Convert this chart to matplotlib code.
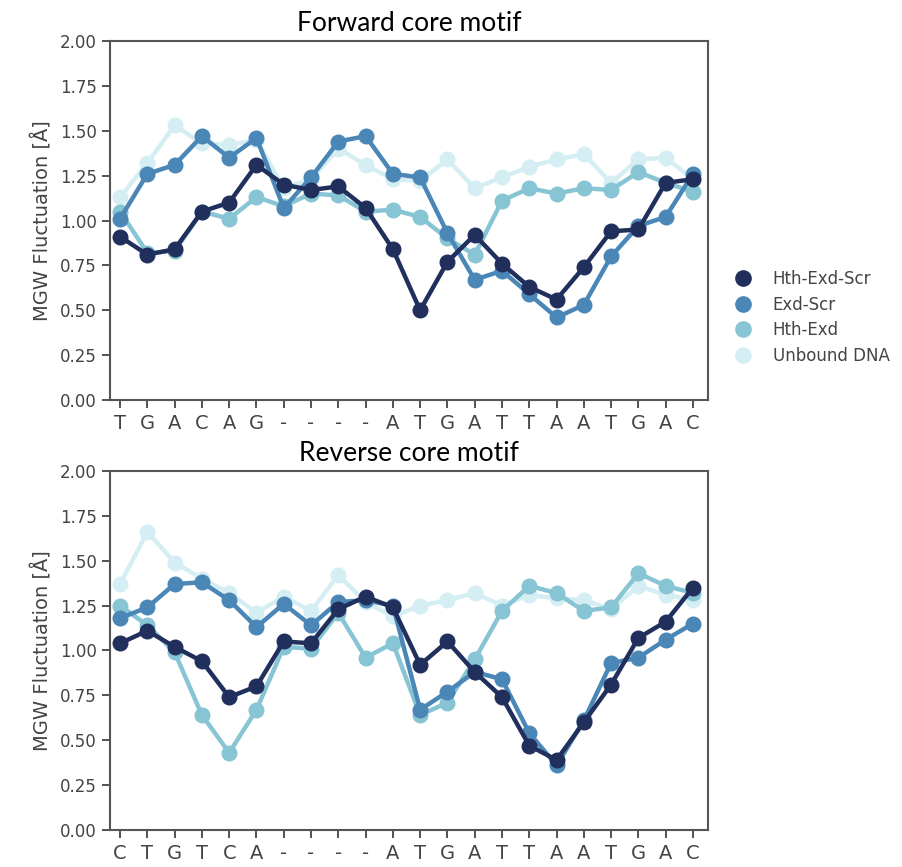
import numpy as np
import matplotlib.pyplot as plt
from matplotlib.lines import Line2D

plt.rcParams['font.family'] = 'DejaVu Sans'

# sequence labels along x
fwd_labels = ['T', 'G', 'A', 'C', 'A', 'G', '-', '-', '-', '-',
              'A', 'T', 'G', 'A', 'T', 'T', 'A', 'A', 'T', 'G', 'A', 'C']
rev_labels = ['C', 'T', 'G', 'T', 'C', 'A', '-', '-', '-', '-',
              'A', 'T', 'G', 'A', 'T', 'T', 'A', 'A', 'T', 'G', 'A', 'C']

series_names = ['Hth-Exd-Scr', 'Exd-Scr', 'Hth-Exd', 'Unbound DNA']
colors = ['#212f5c', '#4a86b6', '#87c5d4', '#d5eef3']

# forward core motif
fwd_hth_exd_scr = [0.91, 0.81, 0.84, 1.05, 1.10, 1.31, 1.20, 1.17, 1.19, 1.07, 0.84,
                   0.50, 0.77, 0.92, 0.76, 0.63, 0.56, 0.74, 0.94, 0.95, 1.21, 1.23]
fwd_exd_scr = [1.01, 1.26, 1.31, 1.47, 1.35, 1.46, 1.07, 1.24, 1.44, 1.47, 1.26,
               1.24, 0.93, 0.67, 0.72, 0.59, 0.46, 0.53, 0.80, 0.97, 1.02, 1.26]
fwd_hth_exd = [1.05, 0.82, 0.83, 1.05, 1.01, 1.13, 1.08, 1.15, 1.14, 1.05, 1.06,
               1.02, 0.90, 0.81, 1.11, 1.18, 1.15, 1.18, 1.17, 1.27, 1.21, 1.16]
fwd_unbound = [1.13, 1.32, 1.53, 1.43, 1.42, 1.45, 1.18, 1.23, 1.40, 1.31, 1.23,
               1.22, 1.34, 1.18, 1.24, 1.30, 1.34, 1.37, 1.21, 1.34, 1.35, 1.23]

# reverse core motif
rev_hth_exd_scr = [1.04, 1.11, 1.02, 0.94, 0.74, 0.80, 1.05, 1.04, 1.23, 1.30, 1.24,
                   0.92, 1.05, 0.88, 0.74, 0.47, 0.39, 0.60, 0.81, 1.07, 1.16, 1.35]
rev_exd_scr = [1.18, 1.24, 1.37, 1.38, 1.28, 1.13, 1.26, 1.14, 1.27, 1.28, 1.25,
               0.67, 0.77, 0.88, 0.84, 0.54, 0.36, 0.61, 0.93, 0.96, 1.06, 1.15]
rev_hth_exd = [1.25, 1.14, 0.99, 0.64, 0.43, 0.67, 1.02, 1.01, 1.21, 0.96, 1.04,
               0.64, 0.71, 0.95, 1.22, 1.36, 1.32, 1.22, 1.24, 1.43, 1.36, 1.32]
rev_unbound = [1.37, 1.66, 1.49, 1.40, 1.32, 1.21, 1.30, 1.22, 1.42, 1.27, 1.19,
               1.25, 1.28, 1.32, 1.25, 1.31, 1.29, 1.28, 1.23, 1.36, 1.31, 1.28]

fwd = [fwd_hth_exd_scr, fwd_exd_scr, fwd_hth_exd, fwd_unbound]
rev = [rev_hth_exd_scr, rev_exd_scr, rev_hth_exd, rev_unbound]

fig = plt.figure(figsize=(9.03, 8.67), dpi=100)
ax1 = fig.add_axes([0.1218, 0.5386, 0.6622, 0.4141])
ax2 = fig.add_axes([0.1218, 0.0427, 0.6622, 0.4141])

gray = '#444444'
for ax, data, labels, title in [(ax1, fwd, fwd_labels, 'Forward core motif'),
                                (ax2, rev, rev_labels, 'Reverse core motif')]:
    x = np.arange(len(labels))
    # light series first so the dark ones sit on top
    for i in [3, 2, 1, 0]:
        ax.plot(x, data[i], '-o', color=colors[i], lw=3.2, ms=10.5, zorder=3 + (3 - i))
    ax.set_xlim(-0.37, 21.55)
    ax.set_ylim(0, 2.0)
    ax.set_yticks(np.arange(0, 2.01, 0.25))
    ax.set_yticklabels(['%.2f' % v for v in np.arange(0, 2.01, 0.25)])
    ax.set_xticks(x)
    ax.set_xticklabels(labels, fontsize=14, color=gray)
    ax.tick_params(axis='y', labelsize=12, labelcolor=gray, color=gray, length=6, width=1.3)
    ax.tick_params(axis='x', color=gray, length=6, width=1.3, pad=4)
    for s in ax.spines.values():
        s.set_color('#555555')
        s.set_linewidth(1.5)
    ax.set_ylabel('MGW Fluctuation [Å]', fontsize=14, color=gray, labelpad=5)
    ax.set_title(title, fontsize=19, family='Lato', color='black', pad=7)

handles = [Line2D([], [], marker='o', ls='', color=c, ms=11) for c in colors]
ax1.legend(handles, series_names, loc='center left', bbox_to_anchor=(1.005, 0.23),
           frameon=False, fontsize=12, labelcolor=gray, handletextpad=0.8,
           labelspacing=0.45)

fig.savefig('out.png', dpi=100)
